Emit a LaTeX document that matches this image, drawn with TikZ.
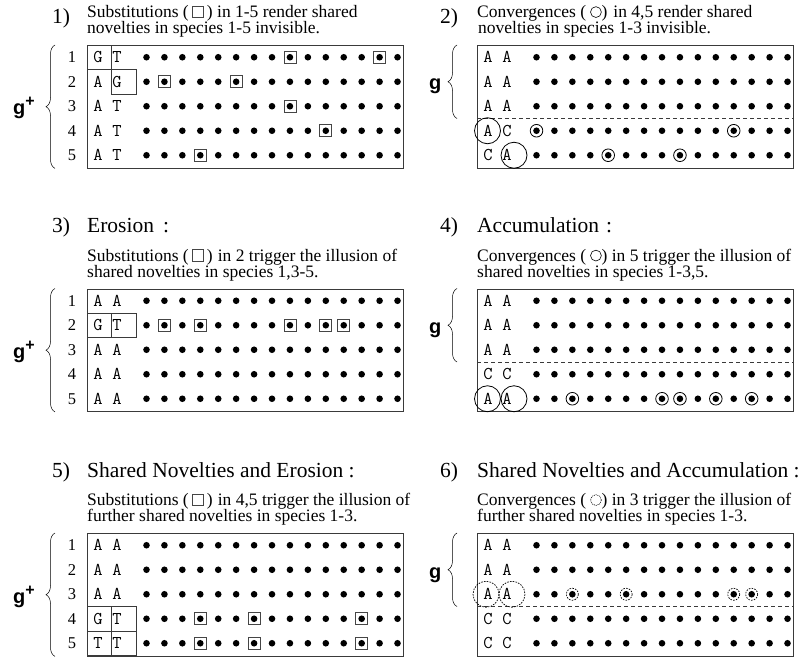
\documentclass[tikz,border=0pt]{standalone}
\usepackage{fontspec}
\setmainfont{Liberation Serif}
\newfontfamily\grpfont{Liberation Sans}
\usetikzlibrary{decorations.pathreplacing}
\definecolor{framegray}{HTML}{3A3A3A}
\definecolor{markgray}{HTML}{454545}
\newcommand\rowy[1]{12.25+24.5*(#1-1)}
\newcommand\seqsite[2]{({59.5+17.93*(#2-1)},{\rowy{#1}})}
\newcommand\sqsym{\tikz[baseline=0pt]\draw[line width=0.6pt, draw=markgray] (0,0) rectangle (0.66em,0.66em);}
\newcommand\cirsym{\tikz[baseline=0pt]\draw[line width=0.6pt] (0.31em,0.31em) circle (0.31em);}
\newcommand\dcirsym{\tikz[baseline=0pt]\draw[line width=0.6pt, dash pattern=on 1pt off 0.9pt] (0.31em,0.31em) circle (0.31em);}
\tikzset{
  seqframe/.style={draw=framegray, line width=0.9pt, minimum width=316pt, minimum height=122.5pt, anchor=north west, inner sep=0pt},
  cellframe/.style={draw=framegray, line width=0.8pt},
  nucl/.style={font=\ttfamily\fontsize{18}{18}\selectfont, inner sep=0pt},
  rownum/.style={font=\fontsize{16.5}{16.5}\selectfont, inner sep=0pt},
  captxt/.style={font=\fontsize{17.5}{16}\selectfont, anchor=base west, inner sep=0pt},
  headtxt/.style={font=\fontsize{21.5}{21.5}\selectfont, anchor=base west, inner sep=0pt},
  grplbl/.style={font=\grpfont\bfseries\fontsize{20}{20}\selectfont, anchor=base west, inner sep=0pt},
  grpbrace/.style={decorate, decoration={brace, amplitude=9pt}, line width=0.5pt},
  sitedot/.style={fill=black},
  substmark/.style={draw=markgray, line width=0.8pt},
  convmark/.style={draw=black, line width=0.8pt},
  convdash/.style={draw=black, line width=0.7pt, dash pattern=on 1.6pt off 1.2pt},
  splitline/.style={draw=framegray, line width=0.7pt, dash pattern=on 4pt off 3pt}
}
\begin{document}
\begin{tikzpicture}[x=1pt, y=-1pt]
\useasboundingbox (0,0) rectangle (808,658);

\begin{scope}[shift={(87,45)}]
  \node[headtxt] (p1-num) at (-35,-21.5) {1)};
  \node[captxt] (p1-cap1) at (0,-27.5) {Substitutions (\hspace{3pt}\sqsym\hspace{3pt}) in 1-5 render shared};
  \node[captxt] (p1-cap2) at (0,-11.5) {novelties in species 1-5 invisible.};
  \node[seqframe] (p1-seq) at (0,0) {};
  \draw[cellframe] (0,0) rectangle (24.5,24.5);
  \draw[cellframe] (24.5,24.5) rectangle (49,49);
  \foreach \a/\b [count=\r] in {G/T,A/G,A/T,A/T,A/T} {
    \node[rownum] (p1-n\r) at (-15,{\rowy{\r}}) {\r};
    \node[nucl] (p1-a\r) at (11,{\rowy{\r}}) {\a};
    \node[nucl] (p1-b\r) at (30,{\rowy{\r}}) {\b};
  }
  \foreach \r in {1,...,5}
    \foreach \c in {1,...,15}
      \fill[sitedot] \seqsite{\r}{\c} circle (3.3);
  \foreach \r/\c in {1/9,1/14,2/2,2/6,3/9,4/11,5/4}
    \draw[substmark] \seqsite{\r}{\c} +(-6,-6) rectangle +(6,6);
  \draw[grpbrace] ([xshift=-32pt]p1-seq.south west) -- ([xshift=-32pt]p1-seq.north west);
  \node[grplbl] (p1-g) at (-74,70) {g\raisebox{0.4em}{\fontsize{16}{16}\selectfont +}};
\end{scope}

\begin{scope}[shift={(477,45)}]
  \node[headtxt] (p2-num) at (-37,-21.5) {2)};
  \node[captxt] (p2-cap1) at (0,-27.5) {Convergences (\hspace{4pt}\cirsym)\hspace{6pt}in 4,5 render shared};
  \node[captxt] (p2-cap2) at (1,-11.5) {novelties in species 1-3 invisible.};
  \node[seqframe] (p2-seq) at (0,0) {};
  \draw[splitline] (0,73.5) coordinate (p2-split) -- (316,73.5);
  \foreach \a/\b [count=\r] in {A/A,A/A,A/A,A/C,C/A} {
    \node[nucl] (p2-a\r) at (11,{\rowy{\r}}) {\a};
    \node[nucl] (p2-b\r) at (30,{\rowy{\r}}) {\b};
  }
  \draw[convmark] (10.5,{\rowy{4}}) circle (13);
  \draw[convmark] (37,{\rowy{5}}) circle (13);
  \foreach \r in {1,...,5}
    \foreach \c in {1,...,15}
      \fill[sitedot] \seqsite{\r}{\c} circle (3.3);
  \foreach \r/\c in {4/1,4/12,5/5,5/9}
    \draw[convmark] \seqsite{\r}{\c} circle (6.3);
  \draw[grpbrace] ([xshift=-20pt]p2-split) -- ([xshift=-20pt]p2-seq.north west);
  \node[grplbl] (p2-g) at (-48,45) {g};
\end{scope}

\begin{scope}[shift={(87,288.5)}]
  \node[headtxt] (p3-num) at (-35,-56) {3)};
  \node[headtxt] (p3-head) at (0,-56) {Erosion\hspace{9pt}:};
  \node[captxt] (p3-cap1) at (0,-27.5) {Substitutions (\hspace{3pt}\sqsym\hspace{3pt})\hspace{5pt}in 2 trigger the illusion of};
  \node[captxt] (p3-cap2) at (0,-11.5) {shared novelties in species 1,3-5.};
  \node[seqframe] (p3-seq) at (0,0) {};
  \draw[cellframe] (0,24.5) rectangle (24.5,49);
  \draw[cellframe] (24.5,24.5) rectangle (49,49);
  \foreach \a/\b [count=\r] in {A/A,G/T,A/A,A/A,A/A} {
    \node[rownum] (p3-n\r) at (-15,{\rowy{\r}}) {\r};
    \node[nucl] (p3-a\r) at (11,{\rowy{\r}}) {\a};
    \node[nucl] (p3-b\r) at (30,{\rowy{\r}}) {\b};
  }
  \foreach \r in {1,...,5}
    \foreach \c in {1,...,15}
      \fill[sitedot] \seqsite{\r}{\c} circle (3.3);
  \foreach \r/\c in {2/2,2/4,2/9,2/11,2/12}
    \draw[substmark] \seqsite{\r}{\c} +(-6,-6) rectangle +(6,6);
  \draw[grpbrace] ([xshift=-32pt]p3-seq.south west) -- ([xshift=-32pt]p3-seq.north west);
  \node[grplbl] (p3-g) at (-74,70) {g\raisebox{0.4em}{\fontsize{16}{16}\selectfont +}};
\end{scope}

\begin{scope}[shift={(477,288.5)}]
  \node[headtxt] (p4-num) at (-37,-56) {4)};
  \node[headtxt] (p4-head) at (0,-56) {Accumulation\hspace{7pt}:};
  \node[captxt] (p4-cap1) at (0,-27.5) {Convergences (\hspace{4pt}\cirsym) in 5 trigger the illusion of};
  \node[captxt] (p4-cap2) at (0,-11.5) {shared novelties in species 1-3,5.};
  \node[seqframe] (p4-seq) at (0,0) {};
  \draw[splitline] (0,73.5) coordinate (p4-split) -- (316,73.5);
  \foreach \a/\b [count=\r] in {A/A,A/A,A/A,C/C,A/A} {
    \node[nucl] (p4-a\r) at (11,{\rowy{\r}}) {\a};
    \node[nucl] (p4-b\r) at (30,{\rowy{\r}}) {\b};
  }
  \draw[convmark] (10.5,{\rowy{5}}) circle (13);
  \draw[convmark] (37,{\rowy{5}}) circle (13);
  \foreach \r in {1,...,5}
    \foreach \c in {1,...,15}
      \fill[sitedot] \seqsite{\r}{\c} circle (3.3);
  \foreach \r/\c in {5/3,5/8,5/9,5/11,5/13}
    \draw[convmark] \seqsite{\r}{\c} circle (6.3);
  \draw[grpbrace] ([xshift=-20pt]p4-split) -- ([xshift=-20pt]p4-seq.north west);
  \node[grplbl] (p4-g) at (-48,45) {g};
\end{scope}

\begin{scope}[shift={(87,533)}]
  \node[headtxt] (p5-num) at (-35,-56) {5)};
  \node[headtxt] (p5-head) at (0,-56) {Shared Novelties and Erosion :};
  \node[captxt] (p5-cap1) at (0,-27.5) {Substitutions (\hspace{3pt}\sqsym\hspace{3pt})\hspace{5pt}in 4,5 trigger the illusion of};
  \node[captxt] (p5-cap2) at (0,-11.5) {further shared novelties in species 1-3.};
  \node[seqframe] (p5-seq) at (0,0) {};
  \draw[cellframe] (0,73.5) rectangle (49,122.5);
  \draw[cellframe] (24.5,73.5) -- (24.5,122.5);
  \draw[cellframe] (0,98) -- (49,98);
  \foreach \a/\b [count=\r] in {A/A,A/A,A/A,G/T,T/T} {
    \node[rownum] (p5-n\r) at (-15,{\rowy{\r}}) {\r};
    \node[nucl] (p5-a\r) at (11,{\rowy{\r}}) {\a};
    \node[nucl] (p5-b\r) at (30,{\rowy{\r}}) {\b};
  }
  \foreach \r in {1,...,5}
    \foreach \c in {1,...,15}
      \fill[sitedot] \seqsite{\r}{\c} circle (3.3);
  \foreach \r/\c in {4/4,4/7,4/13,5/4,5/7,5/13}
    \draw[substmark] \seqsite{\r}{\c} +(-6,-6) rectangle +(6,6);
  \draw[grpbrace] ([xshift=-32pt]p5-seq.south west) -- ([xshift=-32pt]p5-seq.north west);
  \node[grplbl] (p5-g) at (-74,70) {g\raisebox{0.4em}{\fontsize{16}{16}\selectfont +}};
\end{scope}

\begin{scope}[shift={(477,533)}]
  \node[headtxt] (p6-num) at (-37,-56) {6)};
  \node[headtxt] (p6-head) at (0,-56) {Shared Novelties and Accumulation :};
  \node[captxt] (p6-cap1) at (0,-27.5) {Convergences (\hspace{4pt}\dcirsym) in 3 trigger the illusion of};
  \node[captxt] (p6-cap2) at (0,-11.5) {further shared novelties in species 1-3.};
  \node[seqframe] (p6-seq) at (0,0) {};
  \draw[splitline] (0,73.5) coordinate (p6-split) -- (316,73.5);
  \foreach \a/\b [count=\r] in {A/A,A/A,A/A,C/C,C/C} {
    \node[nucl] (p6-a\r) at (11,{\rowy{\r}}) {\a};
    \node[nucl] (p6-b\r) at (30,{\rowy{\r}}) {\b};
  }
  \draw[convdash] (9,{\rowy{3}}) circle (13);
  \draw[convdash] (35,{\rowy{3}}) circle (13);
  \foreach \r in {1,...,5}
    \foreach \c in {1,...,15}
      \fill[sitedot] \seqsite{\r}{\c} circle (3.3);
  \foreach \r/\c in {3/3,3/6,3/12,3/13}
    \draw[convdash] \seqsite{\r}{\c} circle (6);
  \draw[grpbrace] ([xshift=-20pt]p6-split) -- ([xshift=-20pt]p6-seq.north west);
  \node[grplbl] (p6-g) at (-48,45) {g};
\end{scope}

\end{tikzpicture}
\end{document}
